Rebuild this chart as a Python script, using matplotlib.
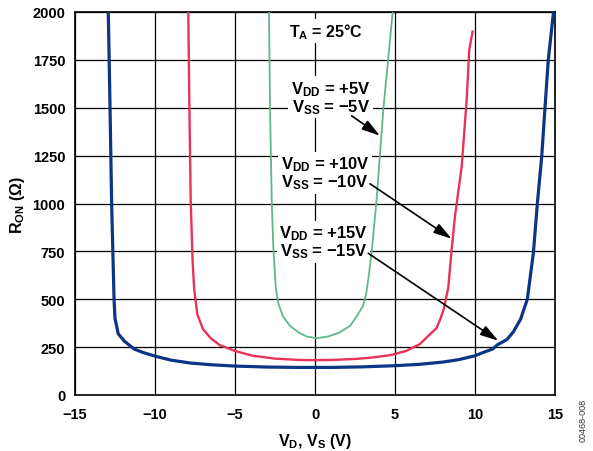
import matplotlib
matplotlib.use("Agg")
import matplotlib.pyplot as plt

plt.rcParams['font.family'] = ['Liberation Sans', 'DejaVu Sans']
plt.rcParams['font.weight'] = 'bold'
plt.rcParams['mathtext.fontset'] = 'custom'
plt.rcParams['mathtext.rm'] = 'Liberation Sans:bold'
plt.rcParams['mathtext.bf'] = 'Liberation Sans:bold'
plt.rcParams['mathtext.it'] = 'Liberation Sans:bold'
plt.rcParams['mathtext.default'] = 'bf'

# Data: (V_D, R_ON) for each supply
x15 = [-12.92, -12.81, -12.71, -12.62, -12.56, -12.5, -12.3, -11.9, -11.3, -10.75, -10, -9, -7.8, -6.5,
       -5, -3, -1, 0, 1, 3, 5, 6.5, 8, 9, 10, 10.6, 11.1, 11.4, 12.0, 12.4, 12.85, 13.27, 13.65,
       13.9, 14.17, 14.38, 14.58, 14.9]
r15 = [2000, 1500, 1000, 700, 500, 400, 320, 280, 240, 222, 203, 182, 167, 158,
       151, 146, 144, 144, 144, 147, 153, 160, 172, 185, 205, 225, 240, 262, 290, 330, 396, 500, 743,
       1003, 1246, 1507, 1750, 1995]

x10 = [-7.92, -7.85, -7.77, -7.65, -7.55, -7.35, -7.0, -6.5, -5.94, -5, -3.9, -2.5, -1, 0, 1, 2.5,
       3.5, 4.7, 5.7, 6.56, 7.2, 7.6, 7.85, 8.05, 8.2, 8.33, 8.54, 8.75, 9.17, 9.48, 9.64, 9.85]
r10 = [2000, 1500, 1021, 700, 552, 420, 344, 295, 260, 230, 205, 190, 183, 182, 183, 188,
       195, 208, 230, 266, 318, 350, 400, 450, 510, 560, 760, 934, 1194, 1542, 1802, 1898]

x5 = [-2.875, -2.81, -2.7, -2.6, -2.45, -2.3, -2.0, -1.56, -1, -0.5, 0.1, 0.8, 1.5, 2.19, 2.6,
      3.0, 3.2, 3.33, 3.54, 3.85, 4.27, 4.85]
r5 = [2000, 1490, 1000, 760, 560, 480, 410, 361, 325, 305, 297, 305, 325, 361, 410,
      465, 530, 604, 745, 1021, 1490, 1995]

x_ticks = [-15, -10, -5, 0, 5, 10, 15]
y_ticks = [0, 250, 500, 750, 1000, 1250, 1500, 1750, 2000]

fig = plt.figure(figsize=(5.93, 4.52), dpi=100)
ax = fig.add_axes([75/593, 1 - 396/452, 480/593, 383/452])

ax.plot(x15, r15, color='#0b3585', lw=2.3, zorder=5, solid_joinstyle='round')
ax.plot(x10, r10, color='#e8325a', lw=1.7, zorder=5)
ax.plot(x5, r5, color='#5fb88a', lw=1.3, zorder=5)

ax.set_xlim(-15, 15)
ax.set_ylim(0, 2000)
ax.set_xticks(x_ticks)
ax.set_yticks(y_ticks)
ax.grid(True, color='black', lw=0.9, zorder=1)
ax.set_axisbelow(True)
for s in ax.spines.values():
    s.set_linewidth(1.2)
ax.tick_params(axis='y', labelsize=10.5, length=0, pad=7)
ax.tick_params(axis='x', labelsize=10.5, length=0, pad=9)
for lab in ax.get_xticklabels() + ax.get_yticklabels():
    lab.set_fontweight('bold')

ax.set_xlabel('V$_{D}$, V$_{S}$ (V)', fontsize=11.5, fontweight='bold', labelpad=7)
ax.set_ylabel('R$_{ON}$ (Ω)', fontsize=11.5, fontweight='bold', labelpad=4)

bb = dict(boxstyle='square,pad=0.15', fc='white', ec='none')
ax.text(0.69, 1900, 'T$_{A}$ = 25°C', ha='center', va='center', fontsize=11.5, zorder=3, bbox=bb)
ax.text(0.98, 1555, 'V$_{DD}$ = +5V\nV$_{SS}$ = −5V', ha='center', va='center', fontsize=12,
        zorder=3, bbox=bb, linespacing=0.95)
ax.text(0.62, 1160, 'V$_{DD}$ = +10V\nV$_{SS}$ = −10V', ha='center', va='center', fontsize=12,
        zorder=3, bbox=bb, linespacing=0.95)
ax.text(0.53, 800, 'V$_{DD}$ = +15V\nV$_{SS}$ = −15V', ha='center', va='center', fontsize=12,
        zorder=3, bbox=bb, linespacing=0.95)

ap = dict(arrowstyle='-|>,head_length=1.1,head_width=0.32', color='black', lw=1.2,
          shrinkA=0, shrinkB=0)
ax.annotate('', xy=(4.06, 1354), xytext=(2.29, 1458), arrowprops=ap, zorder=6)
ax.annotate('', xy=(8.54, 816), xytext=(3.44, 1103), arrowprops=ap, zorder=6)
ax.annotate('', xy=(11.46, 283), xytext=(3.33, 740), arrowprops=ap, zorder=6)

fig.text(583/593, 1 - 420/452, '00468-008', rotation=90, ha='center', va='center',
         fontsize=6.5, fontweight='normal', color='#333333')

fig.savefig('out.png', dpi=100)
